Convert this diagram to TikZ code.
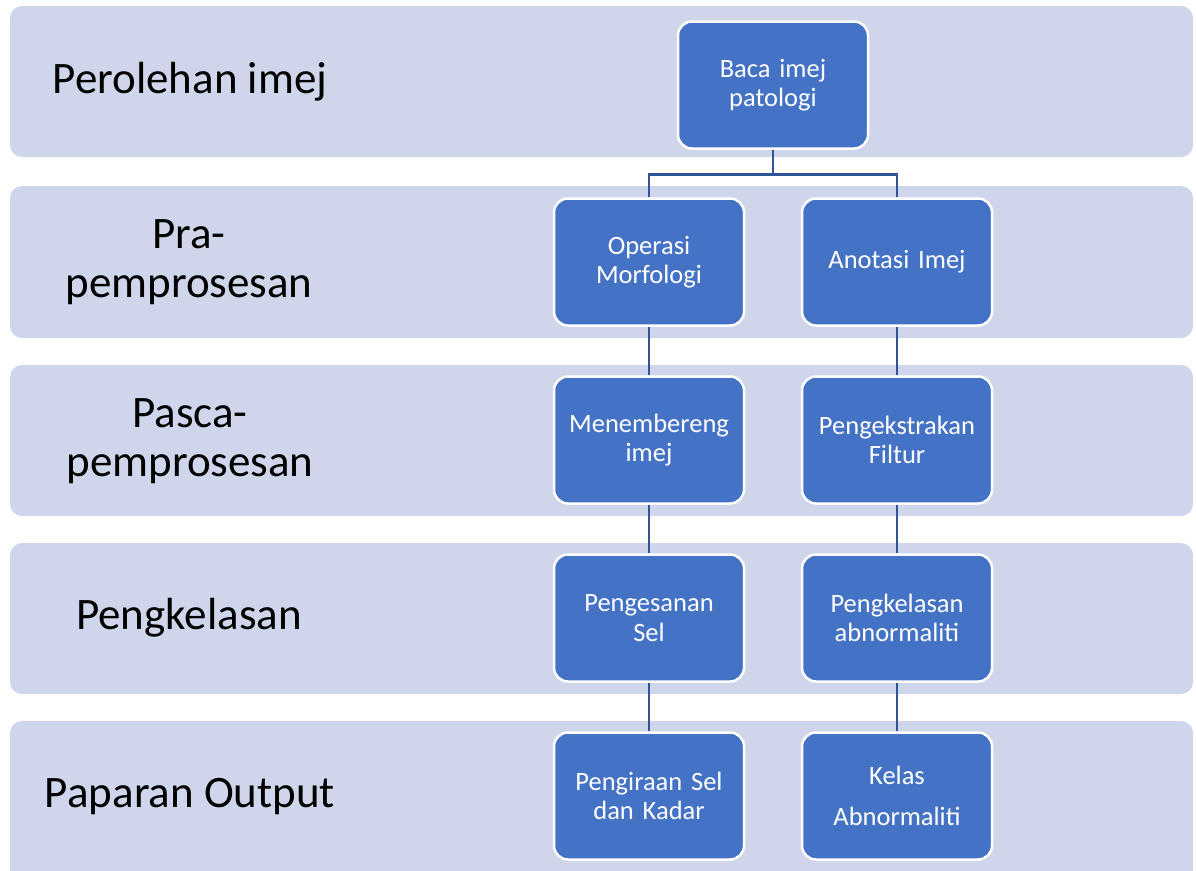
\documentclass[tikz,border=0pt]{standalone}
\usepackage{fontspec}
\setmainfont{Carlito}
\definecolor{bandfill}{HTML}{CFD5EA}
\definecolor{boxfill}{HTML}{4472C4}
\definecolor{linkcol}{HTML}{2F5597}
\begin{document}
\begin{tikzpicture}[x=1pt,y=-1pt,
  band/.style={fill=bandfill,rounded corners=12pt},
  stage/.style={font=\fontsize{45}{49}\selectfont,align=center,text=black},
  proc/.style={rectangle,rounded corners=14pt,fill=boxfill,draw=white,line width=2.5pt,
    minimum width=190pt,minimum height=127pt,text width=180pt,align=center,
    text=white,font=\fontsize{26.5}{29.5}\selectfont},
  link/.style={draw=linkcol,line width=2.6pt}]
\useasboundingbox (0,0) rectangle (1196,870);
\clip (0,0) rectangle (1196,870);
% bands
\path[band] (10,6) rectangle (1193,157);
\path[band] (10,186) rectangle (1193,338);
\path[band] (10,365) rectangle (1193,516);
\path[band] (10,543) rectangle (1193,694);
\path[band] (10,721) rectangle (1193,900);
\path (190,82) node[stage] (s1) {Perolehan imej};
\path (189,262) node[stage] (s2) {Pra-\\pemprosesan};
\path (190,441) node[stage] (s3) {Pasca-\\pemprosesan};
\path (189,618) node[stage] (s4) {Pengkelasan};
\path (190,797) node[stage] (s5) {Paparan Output};
% boxes
\path (773,85) node[proc] (baca) {Baca imej\\patologi};
\path (649,262) node[proc] (operasi) {Operasi\\Morfologi};
\path (897,262) node[proc] (anotasi) {Anotasi Imej};
\path (649,440) node[proc] (menembereng) {Menembereng\\imej};
\path (897,440) node[proc] (ekstrak) {Pengekstrakan\\Filtur};
\path (649,618) node[proc] (kesan) {Pengesanan\\Sel};
\path (897,618) node[proc] (kelas) {Pengkelasan\\abnormaliti};
\path (649,796) node[proc] (kira) {Pengiraan Sel\\dan Kadar};
\path (897,796) node[proc,font=\fontsize{26.5}{41}\selectfont] (abnormal) {Kelas\\Abnormaliti};
% links
\draw[link] (baca.south) -- ++(0,25) -| (operasi.north);
\draw[link] (baca.south) -- ++(0,25) -| (anotasi.north);
\draw[link] (operasi) -- (menembereng) -- (kesan) -- (kira);
\draw[link] (anotasi) -- (ekstrak) -- (kelas) -- (abnormal);
\end{tikzpicture}
\end{document}
